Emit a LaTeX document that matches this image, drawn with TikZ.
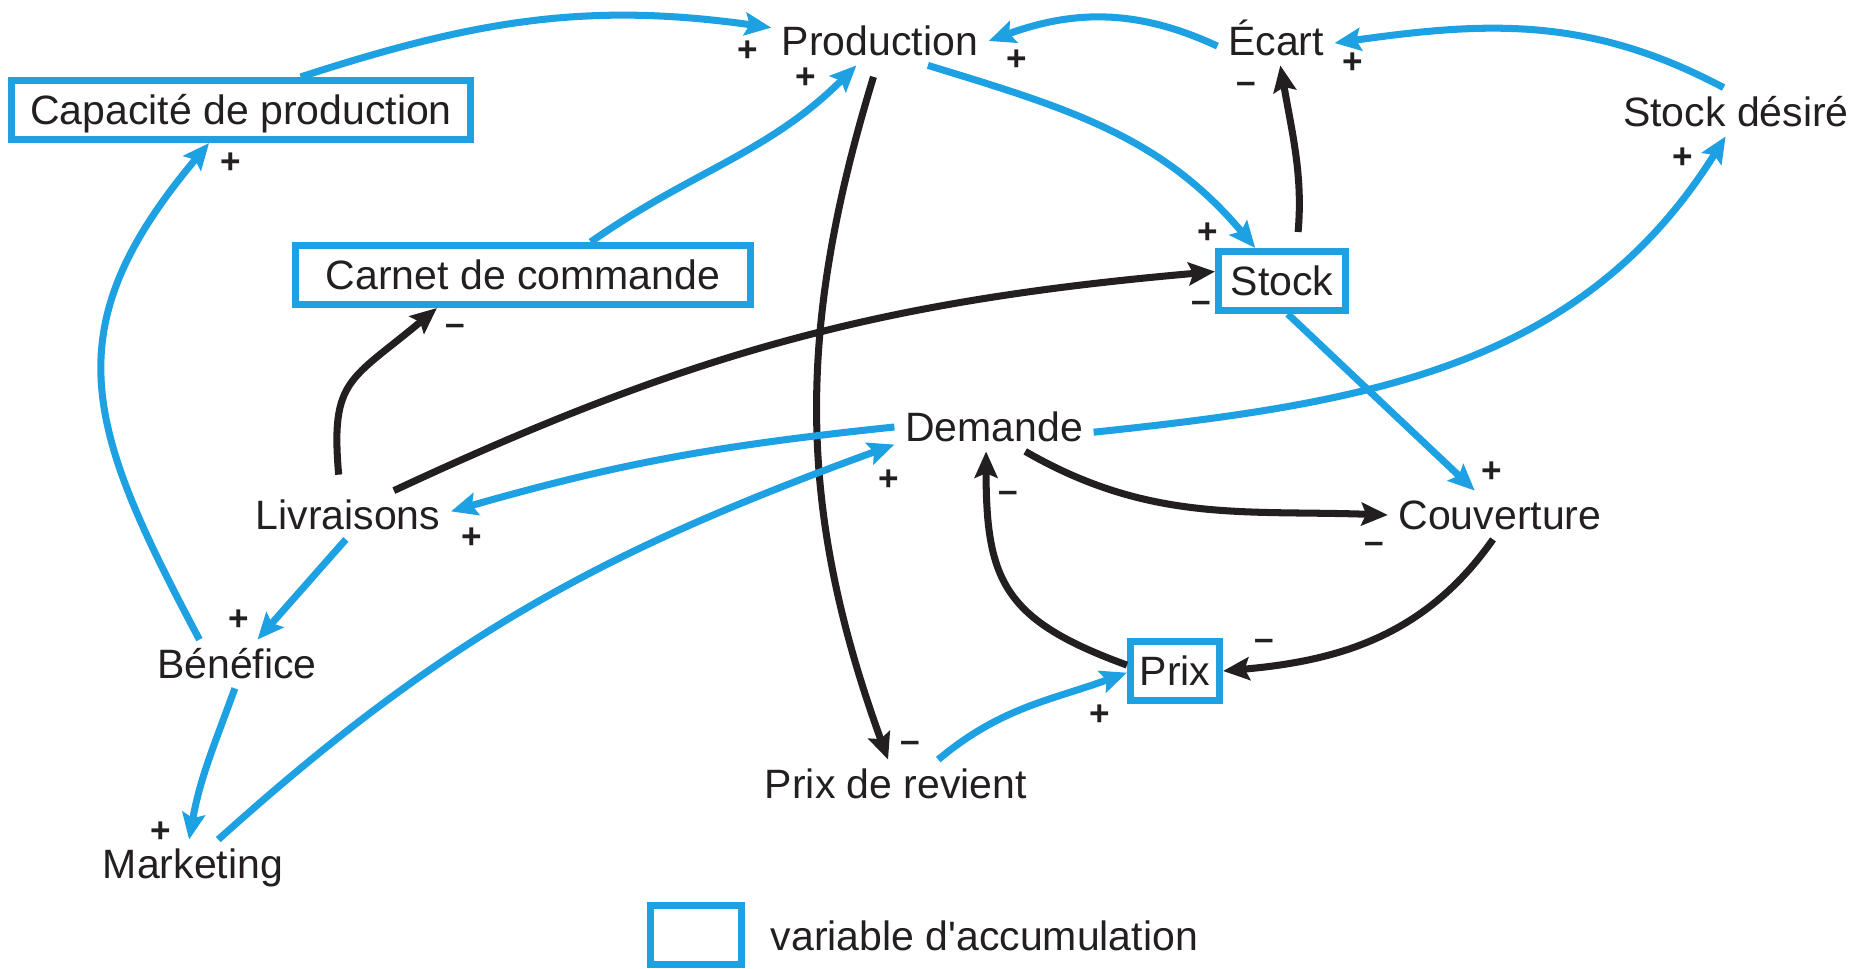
\documentclass[tikz,border=0pt]{standalone}
\usepackage{fontspec}
\setmainfont{Liberation Sans}
\usetikzlibrary{arrows.meta}

\definecolor{bleu}{RGB}{29,161,226}
\definecolor{noir}{RGB}{35,31,32}

\tikzset{
  var/.style={inner xsep=0.1cm, inner ysep=0.09cm, text height=8.35pt, text depth=0pt,
    font=\fontsize{11.66pt}{14pt}\selectfont, text=noir},
  accu/.style={var, draw=bleu, line width=2pt, inner sep=0pt, minimum height=0.59cm},
  signe/.style={inner sep=0pt, text height=6pt, text depth=0pt,
    font=\fontsize{10pt}{12pt}\selectfont\bfseries, text=noir},
  fleche/.style={line width=2pt, -{Stealth[length=7.5pt,width=6.5pt,inset=1.3pt]}},
  fbleue/.style={fleche, draw=bleu},
  fnoire/.style={fleche, draw=noir},
}

\begin{document}
\begin{tikzpicture}[x=0.01cm, y=0.01cm]
\useasboundingbox (0,0) rectangle (1853,969);

% variables
\node[var] (prod) at (880,928) {Production};
\node[var] (ecart) at (1276,928) {Écart};
\node[var] (sdes) at (1736,857) {Stock désiré};
\node[var] (dem) at (994,542) {Demande};
\node[var] (livr) at (348,454) {Livraisons};
\node[var] (couv) at (1500,454) {Couverture};
\node[var] (bene) at (237,305) {Bénéfice};
\node[var] (pdr) at (896,185) {Prix de revient};
\node[var] (mark) at (193,105) {Marketing};

% variables d'accumulation
\node[accu, minimum width=4.59cm] (cap) at (241,859) {Capacité de production};
\node[accu, minimum width=4.54cm] (carnet) at (523,694) {Carnet de commande};
\node[accu, minimum width=1.27cm] (stock) at (1282,688) {Stock};
\node[accu, minimum width=0.89cm] (prix) at (1175,298) {Prix};

% legende
\node[accu, minimum width=0.91cm] (legende) at (696,34) {};
\node[var, anchor=west] (legtxt) at (760,33) {variable d\textquotesingle accumulation};

% liens
\draw[fbleue] (cap.29) to[out=18,in=172] (prod.173);
\draw[fbleue] (carnet.26) to[out=35,in=225] (prod.226);
\draw[fbleue] (ecart.185) to[out=155,in=20] (prod.0);
\draw[fbleue] (sdes.117) to[out=152,in=8] (ecart.358);
\draw[fnoire, shorten <=0.16cm] (stock.66) to[out=85,in=280] (ecart.280);
\draw[fbleue] (prod.333) to[out=-17,in=130] (stock.129);
\draw[fnoire, shorten <=0.12cm] (prod.263) to[out=253,in=110] (pdr.108);
\draw[fnoire] (livr.28) to[out=25,in=185] (stock.172);
\draw[fnoire, shorten <=0.16cm] (livr.108) to[out=95,in=220,looseness=1.4] (carnet.201);
\draw[fbleue] (dem.180) to[out=186,in=16] (livr.2);
\draw[fbleue] (mark.44) to[out=42,in=200] (dem.190);
\draw[fbleue] (dem.357) to[out=6,in=238] (sdes.247);
\draw[fbleue] (stock.280) -- (couv.136);
\draw[fnoire] (dem.322) to[out=-30,in=178] (couv.180);
\draw[fnoire] (couv.254) to[out=235,in=5] (prix.0);
\draw[fnoire] (prix.173) to[out=160,in=270,looseness=1.3] (dem.252);
\draw[fbleue] (pdr.30) to[out=40,in=200] (prix.182);
\draw[fbleue] (livr.265) -- (bene.50);
\draw[fbleue] (bene.147) to[out=118,in=230,looseness=1.25] (cap.226);
\draw[fbleue] (bene.265) to[out=250,in=80] (mark.99);

% signes
\node[signe] (s1) at (748,918) {+};
\node[signe] (s2) at (806,891) {+};
\node[signe] (s3) at (1017,909) {+};
\node[signe] (s4) at (1353,906) {+};
\node[signe] (s5) at (1246,886) {\textendash};
\node[signe] (s6) at (1208,736) {+};
\node[signe] (s7) at (910,227) {\textendash};
\node[signe] (s8) at (1201,667) {\textendash};
\node[signe] (s9) at (455,644) {\textendash};
\node[signe] (s10) at (472,431) {+};
\node[signe] (s11) at (889,489) {+};
\node[signe] (s12) at (1683,811) {+};
\node[signe] (s13) at (1492,497) {+};
\node[signe] (s14) at (1374,426) {\textendash};
\node[signe] (s15) at (1264,329) {\textendash};
\node[signe] (s16) at (1008,477) {\textendash};
\node[signe] (s17) at (1100,254) {+};
\node[signe] (s18) at (239,349) {+};
\node[signe] (s19) at (231,806) {+};
\node[signe] (s20) at (161,137) {+};
\end{tikzpicture}
\end{document}
